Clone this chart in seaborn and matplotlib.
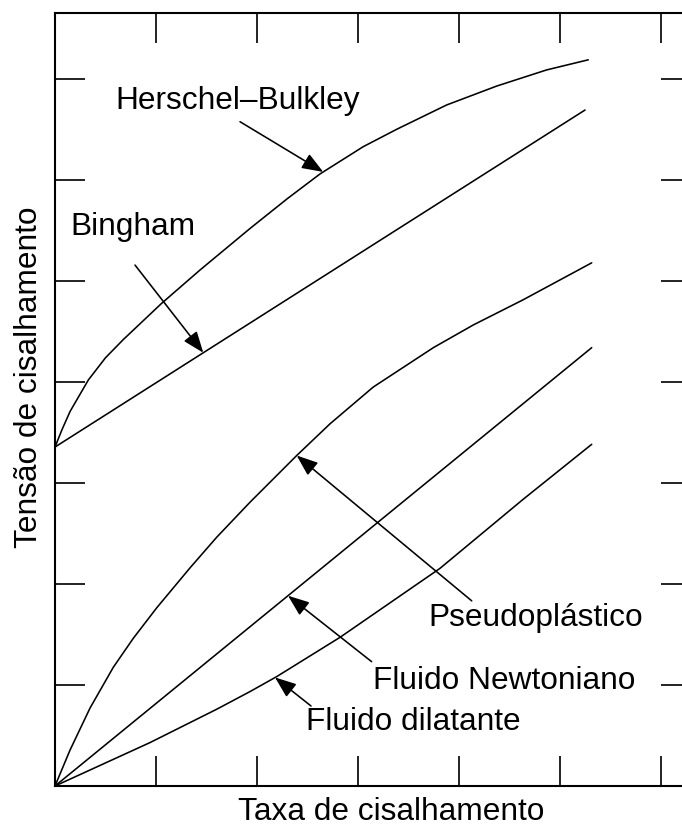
import matplotlib
matplotlib.use("Agg")
import matplotlib.pyplot as plt
import seaborn as sns
import pandas as pd

# Flow curves (shear stress vs. shear rate), arbitrary units
hb_x = [0, 0.07, 0.15, 0.33, 0.5, 0.676, 1.056, 1.436, 1.931, 2.3, 2.624, 3.052, 3.383, 3.878, 4.373, 4.868, 5.280]
hb_y = [3.356, 3.53, 3.71, 4.02, 4.24, 4.42, 4.779, 5.109, 5.520, 5.815, 6.06, 6.33, 6.502, 6.743, 6.93, 7.09, 7.19]

bingham_x = [0, 5.248]
bingham_y = [3.356, 6.693]

pseudo_x = [0, 0.149, 0.347, 0.577, 0.775, 1.007, 1.337, 1.601, 1.931, 2.393, 2.723, 3.151, 3.746, 4.142, 4.637, 5.314]
pseudo_y = [0, 0.356, 0.772, 1.175, 1.462, 1.764, 2.160, 2.463, 2.810, 3.272, 3.586, 3.950, 4.340, 4.565, 4.815, 5.180]

newton_x = [0, 5.314]
newton_y = [0, 4.34]

dilat_x = [0, 0.941, 1.601, 1.931, 2.195, 2.822, 3.812, 4.637, 5.314]
dilat_y = [0, 0.43, 0.76, 0.935, 1.083, 1.472, 2.155, 2.84, 3.383]

# Curve labels: text, text anchor (left, baseline), arrow tail, arrow tip
labels = ["Herschel–Bulkley", "Bingham", "Pseudoplástico", "Fluido Newtoniano", "Fluido dilatante"]
label_pos = [(0.594, 6.703), (0.155, 5.460), (3.693, 1.584), (3.149, 0.960), (2.485, 0.554)]
arrow_tail = [(1.832, 6.577), (0.792, 5.158), (4.126, 1.833), (3.135, 1.231), (2.535, 0.792)]
arrow_tip = [(2.656, 6.08), (1.468, 4.29), (2.393, 3.272), (2.307, 1.884), (2.178, 1.075)]

x_ticks = [1, 2, 3, 4, 5, 6]
y_ticks = [1, 2, 3, 4, 5, 6, 7]

sns.set_style("white")
plt.rcParams["font.family"] = ["Liberation Sans", "DejaVu Sans"]

fig = plt.figure(figsize=(6.82, 8.27), dpi=100)
W, H = 682, 827
ax = fig.add_axes([55 / W, 41 / H, 636.3 / W, 772.65 / H])

curves = [
    (hb_x, hb_y),
    (bingham_x, bingham_y),
    (pseudo_x, pseudo_y),
    (newton_x, newton_y),
    (dilat_x, dilat_y),
]
for cx, cy in curves:
    df = pd.DataFrame({"x": cx, "y": cy})
    sns.lineplot(data=df, x="x", y="y", ax=ax, color="black", linewidth=1.15,
                 estimator=None, sort=False)

for text, pos, tail, tip in zip(labels, label_pos, arrow_tail, arrow_tip):
    ax.text(pos[0], pos[1], text, ha="left", va="baseline", fontsize=22.8, color="black")
    ax.annotate("", xy=tip, xytext=tail,
                arrowprops=dict(arrowstyle="-|>,head_length=1.3,head_width=0.5",
                                mutation_scale=10, color="black", lw=1.15,
                                shrinkA=0, shrinkB=0))

ax.set_xlim(0, 6.3)
ax.set_ylim(0, 7.65)
ax.set_xticks(x_ticks)
ax.set_yticks(y_ticks)
ax.tick_params(axis="both", which="both", direction="in", length=21.5, width=1.4,
               color="#222222", top=True, right=True, bottom=True, left=True,
               labelbottom=False, labelleft=False)
for side in ["left", "right", "top", "bottom"]:
    ax.spines[side].set_visible(True)
    ax.spines[side].set_color("black")
    ax.spines[side].set_linewidth(1.5)

ax.set_xlabel("Taxa de cisalhamento", fontsize=22.8, color="black")
ax.set_ylabel("Tensão de cisalhamento", fontsize=22.8, color="black")
ax.xaxis.set_label_coords((391 - 55) / 636.3, (786 - 820) / 772.65)
ax.xaxis.label.set_va("baseline")
ax.xaxis.label.set_ha("center")
ax.yaxis.set_label_coords((37 - 55) / 636.3, (786 - 377) / 772.65)
ax.yaxis.label.set_rotation_mode("anchor")
ax.yaxis.label.set_va("baseline")
ax.yaxis.label.set_ha("center")

fig.savefig("out.png", dpi=100)
